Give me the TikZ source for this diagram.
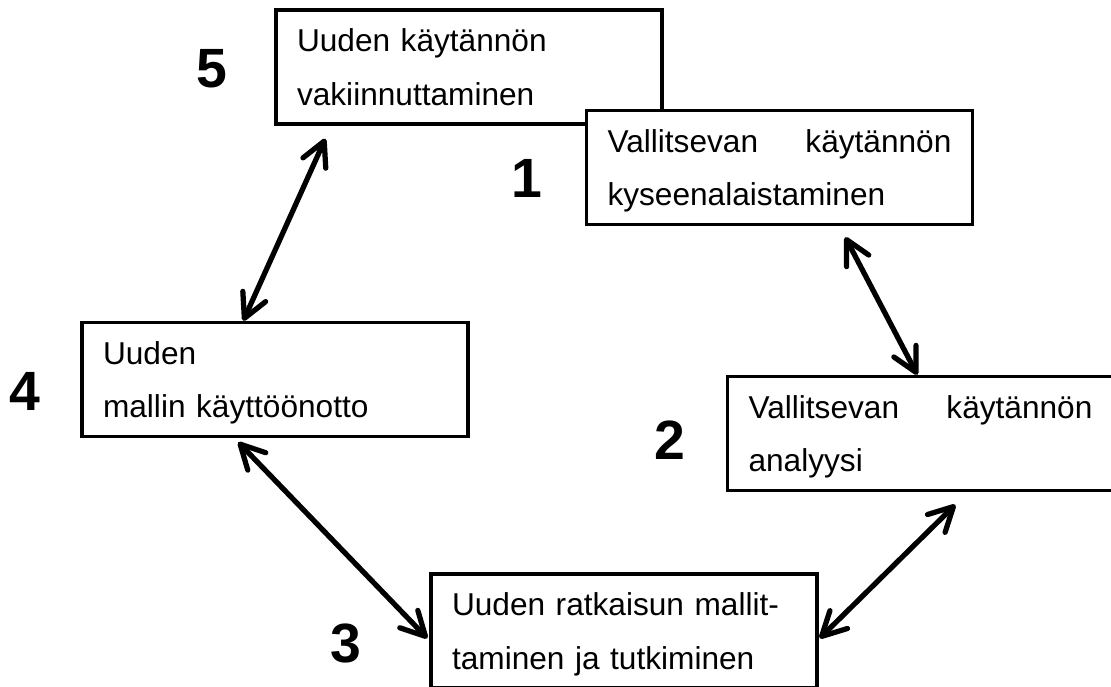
\documentclass[tikz,border=0pt]{standalone}
\usepackage{fontspec}
\setmainfont{Liberation Sans}
\usepackage{tikz}
\usetikzlibrary{arrows.meta}
\newcommand{\boxfont}{\fontsize{18pt}{30.7pt}\selectfont}
\newcommand{\numfont}{\fontsize{31.5pt}{36pt}\selectfont\bfseries}
\newcommand{\firstrow}{\rule{0pt}{0.62cm}}
\newcommand{\lastrow}{\rule[-0.16cm]{0pt}{0.16cm}}
\newcommand{\spreadrow}[2]{\makebox[6.88cm][s]{#1\hfill #2}}
\tikzset{
  stagebox/.style={
    rectangle,
    draw=black,
    line width=0.07cm,
    fill=white,
    minimum width=7.72cm,
    minimum height=2.28cm,
    text width=6.88cm,
    inner xsep=0.42cm,
    inner ysep=0pt,
    align=left,
    font=\boxfont,
    execute at begin node={\parindent=0pt}
  },
  stagenum/.style={
    inner sep=0pt,
    font=\numfont
  },
  flow/.style={{Straight Barb[length=4.8mm,width=5mm,round]}-{Straight Barb[length=4.8mm,width=5mm,round]}, line width=0.105cm, black}
}

\begin{document}
\begin{tikzpicture}[x=0.02cm, y=-0.02cm]
\useasboundingbox (0,0) rectangle (1111,686);
\node[stagebox] (vakiinnutus) at (469,67) {\firstrow Uuden käytännön\\vakiinnuttaminen\lastrow};
\node[stagebox] (kyseenalaistus) at (779.5,167.5) {\firstrow\spreadrow{Vallitsevan}{käytännön}\\kyseenalaistaminen\lastrow};
\node[stagebox] (kayttoonotto) at (275,379.5) {\firstrow Uuden\\mallin käyttöönotto\lastrow};
\node[stagebox] (analyysi) at (920.5,433.5) {\firstrow\spreadrow{Vallitsevan}{käytännön}\\analyysi\lastrow};
\node[stagebox] (mallitus) at (624,631) {\firstrow Uuden ratkaisun mallit-\\taminen ja tutkiminen\lastrow};
% vaiheiden numerot
\node[stagenum] (n5) at (212,69) {5};
\node[stagenum] (n1) at (527,178) {1};
\node[stagenum] (n4) at (25,391) {4};
\node[stagenum] (n2) at (670,440) {2};
\node[stagenum] (n3) at (346,643) {3};
% kaksisuuntaiset nuolet
\draw[flow] ([shift={(51,13)}]vakiinnutus.south west) -- ([shift={(163,0)}]kayttoonotto.north west);
\draw[flow] ([shift={(260.5,11)}]kyseenalaistus.south west) -- ([shift={(191.5,0)}]analyysi.north west);
\draw[flow] ([shift={(158,4)}]kayttoonotto.south west) -- ([shift={(-2,66)}]mallitus.north west);
\draw[flow] ([shift={(229.5,12.5)}]analyysi.south west) -- ([shift={(1,66)}]mallitus.north east);
\end{tikzpicture}
\end{document}
